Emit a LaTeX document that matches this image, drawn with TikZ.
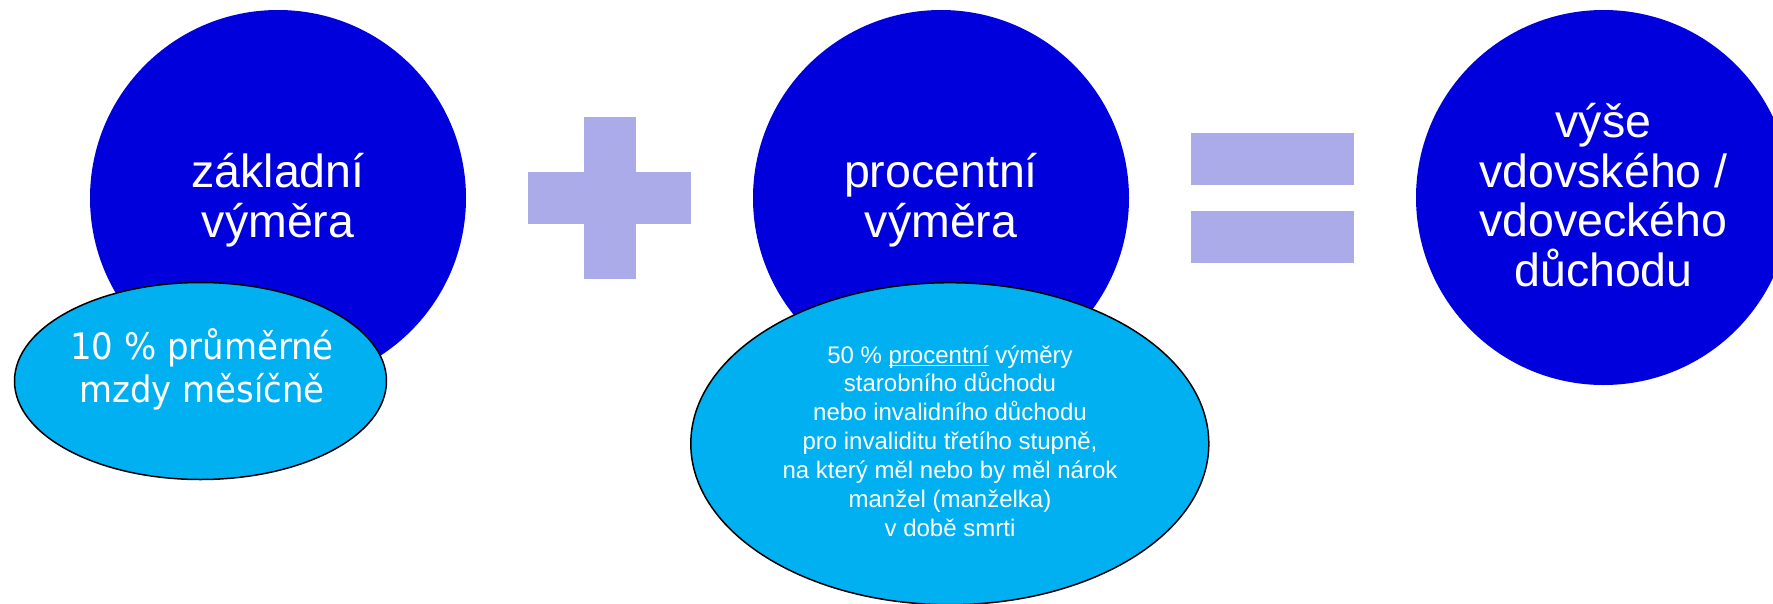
\documentclass[tikz,border=0pt]{standalone}
\usepackage{fontspec}
\usetikzlibrary{shapes.geometric}
\setmainfont{Liberation Sans}
\newfontfamily\tahfont[FakeStretch=0.93]{DejaVu Sans}
\definecolor{circblue}{HTML}{0000DC}
\definecolor{ellblue}{HTML}{00B0F0}
\definecolor{lav}{HTML}{ABABE9}
\newcommand\myul[1]{\setbox0\hbox{#1}\rlap{\rule[-2.8pt]{\wd0}{1.2pt}}\box0\relax}
\begin{document}
\begin{tikzpicture}[x=1pt,y=-1pt,
  bigcirc/.style={circle,fill=circblue,inner sep=0pt,minimum size=376pt},
  smallell/.style={ellipse,fill=ellblue,draw=black,line width=1.5pt,inner sep=0pt},
  lavbar/.style={rectangle,fill=lav,inner sep=0pt},
  bigtext/.style={anchor=base,inner sep=0pt,text=white,font=\fontsize{46.5}{49.5}\selectfont},
  tahtext/.style={anchor=base,inner sep=0pt,text=white,font=\tahfont\fontsize{36.5}{43.4}\selectfont},
  smalltext/.style={anchor=base,inner sep=0pt,text=white,font=\fontsize{24}{28.85}\selectfont}]
\useasboundingbox (0,0) rectangle (1773,603);
\clip (0,0) rectangle (1773,603);
% left group
\node[bigcirc] (c1) at (278,198) {};
\node[bigtext] (c1t) at (278,187.5) {\parbox[t]{360pt}{\centering základní\\výměra}};
\node[smallell,minimum width=372pt,minimum height=197pt] (e1) at (200.5,381) {};
\node[tahtext] (e1t) at (202,359.3) {\parbox[t]{360pt}{\centering 10 \% průměrné\\mzdy měsíčně}};
% plus
\node[lavbar,minimum width=52pt,minimum height=162.3pt] (plusv) at (609.5,197.85) {};
\node[lavbar,minimum width=162.4pt,minimum height=52.3pt] (plush) at (609.5,197.85) {};
% middle group
\node[bigcirc] (c2) at (941,198) {};
\node[bigtext] (c2t) at (941,187.5) {\parbox[t]{360pt}{\centering procentní\\výměra}};
\node[smallell,minimum width=518pt,minimum height=322pt] (e2) at (949.8,443.7) {};
\node[smalltext] (e2t) at (950,363) {\parbox[t]{500pt}{\centering 50 \% \myul{procentní} výměry\\starobního důchodu\\nebo invalidního důchodu\\pro invaliditu třetího stupně,\\na který měl nebo by měl nárok\\manžel (manželka)\\v době smrti}};
% equals
\node[lavbar,minimum width=162.7pt,minimum height=52pt] (eqtop) at (1272.3,159) {};
\node[lavbar,minimum width=162.7pt,minimum height=52pt] (eqbot) at (1272.3,237) {};
% right group
\node[bigcirc,minimum size=375pt] (c3) at (1603.5,197.5) {};
\node[bigtext] (c3t) at (1603.5,137.5) {\parbox[t]{360pt}{\centering výše\\vdovského /\\vdoveckého\\důchodu}};
\end{tikzpicture}
\end{document}
